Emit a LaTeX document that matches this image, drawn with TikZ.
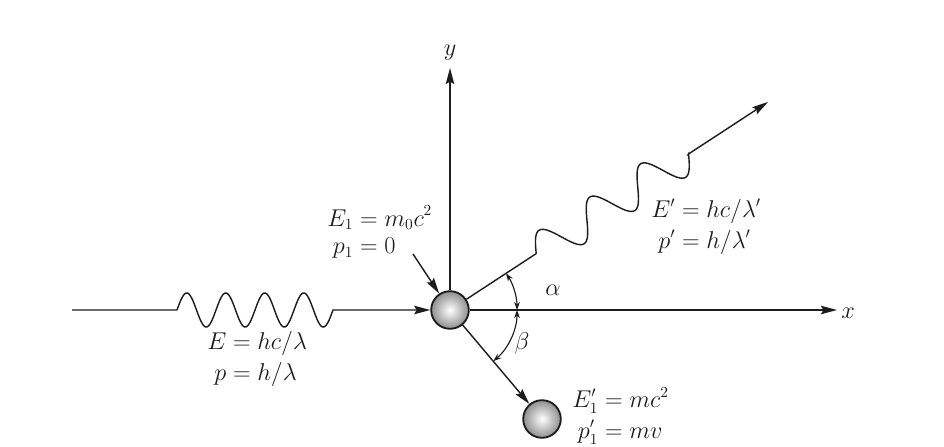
\documentclass[tikz,border=0pt]{standalone}
\usepackage{amsmath}
\usepackage{tikz}
\usetikzlibrary{arrows.meta,positioning,calc}
\definecolor{ink}{HTML}{1C1C1C}
\definecolor{stipple}{HTML}{8E8E8E}
\tikzset{arr/.style={-{Stealth[length=4mm,width=2.1mm,inset=0.6mm]},line width=1pt,draw=ink},
  angarr/.style={{Stealth[length=2mm,width=1.4mm]}-{Stealth[length=2mm,width=1.4mm]},line width=0.8pt,draw=ink},
  particle/.style={circle,draw=ink,line width=1.3pt,minimum size=0.94cm,inner color=white,outer color=stipple},
  lbl/.style={inner sep=0pt,text=ink,font=\fontsize{16}{15}\selectfont}}

\begin{document}
\begin{tikzpicture}[x=0.025cm,y=0.025cm]
\useasboundingbox (0,0) rectangle (944,446);
\fill[white] (0,0) rectangle (944,446);
\node[particle] (e) at (450,136) {};
\node[particle] (e2) at (542,27) {};
\coordinate (src) at (72,136);
\coordinate (w0) at (177,136);
\coordinate (w0end) at (333,136);
\coordinate (xtip) at (837,136);
\coordinate (ytip) at (450,378);
\coordinate (gtip) at (768,344);
\coordinate (w1) at ($(e)!0.271!(gtip)$);
\coordinate (w1end) at ($(e)!0.750!(gtip)$);
\coordinate (e1tail) at (413,192);
% axes
\draw[arr] (e) -- (xtip);
\draw[arr] (e) -- (ytip);
% photons
\draw[arr] (src) -- (w0) {[shift={(w0)}] plot[domain=0:1440,samples=161,smooth] ({\x/360*39},{17*sin(\x)})} -- (w0end) -- (e);
\draw[arr] (e) -- (w1) {[shift={(w1)},rotate=33.2] plot[domain=0:1080,samples=121,smooth] ({\x/360*60.7},{18*sin(\x)})} -- (w1end) -- (gtip);
% electrons
\draw[arr] (e) -- (e2);
\draw[arr] (e1tail) -- (e);
% angles
\draw[angarr] ($(e)+(1.675cm,0)$) arc[start angle=0,end angle=33.2,radius=1.675cm];
\draw[angarr] ($(e)+(1.675cm,0)$) arc[start angle=0,end angle=-49.8,radius=1.675cm];
\node[lbl] (alab) at (553,156) {$\alpha$};
\node[lbl] (blab) at (522,103) {$\beta$};
\node[lbl] (xlab) at (848,133) {$x$};
\node[lbl,above=5pt of ytip] (ylab) {$y$};
% labels
\node[lbl,anchor=west] (kin) at (207,87) {$\begin{aligned}E&=hc/\lambda\\p&=h/\lambda\end{aligned}$};
\node[lbl,anchor=west] (rest) at (327,213) {$\begin{aligned}E_1&=m_0c^2\\p_1&=0\end{aligned}$};
\node[lbl,anchor=west] (scat) at (651,219) {$\begin{aligned}E'&=hc/\lambda'\\p'&=h/\lambda'\end{aligned}$};
\node[lbl,anchor=west] (recoil) at (572,30) {$\begin{aligned}E_1'&=mc^2\\p_1'&=mv\end{aligned}$};
\end{tikzpicture}
\end{document}
